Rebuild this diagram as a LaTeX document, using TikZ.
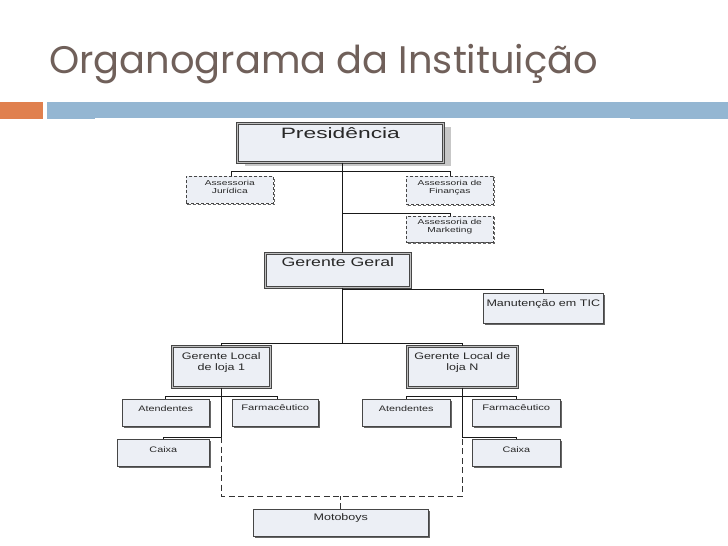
\documentclass[tikz,border=0pt]{standalone}
\usepackage{fontspec}
\setmainfont{Liberation Sans}
\newfontfamily\titlefont{Poppins}
\usetikzlibrary{calc}
\definecolor{boxfill}{RGB}{236,239,245}
\definecolor{boxline}{RGB}{70,70,70}
\definecolor{titlecol}{RGB}{112,96,90}
\definecolor{barorange}{RGB}{224,128,78}
\definecolor{barblue}{RGB}{148,182,210}
\definecolor{txtcol}{RGB}{40,40,40}
\newcommand{\sx}[2][1.35]{\scalebox{#1}[1]{#2}}
\begin{document}
\begin{tikzpicture}[x=1pt,y=-1pt,
  box/.style={draw=boxline, fill=boxfill, line width=0.6pt, rectangle, inner sep=0pt, anchor=north west,
    preaction={fill=black!60, transform canvas={shift={(1.5pt,-1.5pt)}}}},
  dbox/.style={draw=boxline, fill=boxfill, line width=0.6pt, dashed, dash pattern=on 3pt off 2pt,
    rectangle, inner sep=0pt, anchor=north west,
    preaction={draw=black!60, line width=1.2pt, dash pattern=on 3pt off 2pt, transform canvas={shift={(1.2pt,-1.2pt)}}}},
  mainbox/.style={draw=boxline, fill=boxfill, line width=0.7pt, double=black!25, double distance=1.2pt,
    rectangle, inner sep=0pt, anchor=north west},
  presbox/.style={mainbox, preaction={fill=black!22, transform canvas={shift={(8pt,-4pt)}}}},
  glbox/.style={mainbox, preaction={fill=black!60, transform canvas={shift={(1.5pt,-1.5pt)}}}},
  lbl/.style={anchor=north, inner sep=0pt, text=txtcol, align=center},
  conn/.style={draw=black!90, line width=1pt},
  dconn/.style={draw=black!80, line width=1pt, dash pattern=on 6pt off 3.5pt}
]
\useasboundingbox (0,0) rectangle (728,546);
\fill[white] (0,0) rectangle (728,546);

% title and bars
\node[anchor=base west, inner sep=0pt, text=titlecol, font=\titlefont\fontsize{38.4}{44}\selectfont] (title) at (49,73) {Organograma da Instituição};
\fill[barorange] (0,101.5) rectangle (42.5,119);
\fill[barblue] (46.5,101.5) rectangle (728,119);
\fill[white] (95,117.5) rectangle (630,119.5);

% boxes
\node[presbox, minimum width=206, minimum height=39] (pres) at (237,123) {};
\node[dbox, minimum width=87, minimum height=27] (jur) at (186,176) {};
\node[dbox, minimum width=87, minimum height=28] (fin) at (406,176) {};
\node[dbox, minimum width=87, minimum height=26] (mkt) at (406,215.5) {};
\node[mainbox, minimum width=145, minimum height=34] (gg) at (265,253) {};
\node[box, minimum width=120, minimum height=30] (man) at (483,293) {};
\node[glbox, minimum width=98, minimum height=41] (gl1) at (172,346) {};
\node[glbox, minimum width=110, minimum height=41] (glN) at (407,346) {};
\node[box, minimum width=87, minimum height=27] (at1) at (122,399) {};
\node[box, minimum width=86, minimum height=27] (fa1) at (232,399) {};
\node[box, minimum width=92, minimum height=27] (cx1) at (117,439) {};
\node[box, minimum width=88, minimum height=27] (atN) at (362,399) {};
\node[box, minimum width=88, minimum height=27] (faN) at (472,399) {};
\node[box, minimum width=88, minimum height=27] (cxN) at (472,439) {};
\node[box, minimum width=175, minimum height=27] (mb) at (253,509) {};

% labels
\node[lbl, font=\fontsize{15}{17}\selectfont] (tpres) at ($(pres.north)+(0,4.5)$) {\sx[1.52]{Presidência}};
\node[lbl, font=\fontsize{7.2}{7.6}\selectfont] (tjur) at ($(jur.north)+(0,4.5)$) {\sx[1.42]{Assessoria}\\\sx[1.42]{Jurídica}};
\node[lbl, font=\fontsize{7.2}{7.6}\selectfont] (tfin) at ($(fin.north)+(0,4.5)$) {\sx[1.42]{Assessoria de}\\\sx[1.42]{Finanças}};
\node[lbl, font=\fontsize{7.2}{7.6}\selectfont] (tmkt) at ($(mkt.north)+(0,4)$) {\sx[1.42]{Assessoria de}\\\sx[1.42]{Marketing}};
\node[lbl, font=\fontsize{12.5}{14}\selectfont] (tgg) at ($(gg.north)+(0,4.5)$) {\sx[1.42]{Gerente Geral}};
\node[lbl, font=\fontsize{9.5}{11}\selectfont] (tman) at ($(man.north)+(0,6.5)$) {\sx[1.32]{Manutenção em TIC}};
\node[lbl, font=\fontsize{9.5}{10.5}\selectfont] (tgl1) at ($(gl1.north)+(0,6.5)$) {\sx[1.32]{Gerente Local}\\\sx[1.32]{de loja 1}};
\node[lbl, font=\fontsize{9.5}{10.5}\selectfont] (tglN) at ($(glN.north)+(0,6.5)$) {\sx[1.32]{Gerente Local de}\\\sx[1.32]{loja N}};
\node[lbl, font=\fontsize{8}{9}\selectfont] (tat1) at ($(at1.north)+(0,6)$) {\sx{Atendentes}};
\node[lbl, font=\fontsize{8}{9}\selectfont] (tfa1) at ($(fa1.north)+(0,5.5)$) {\sx[1.4]{Farmacêutico}};
\node[lbl, font=\fontsize{8}{9}\selectfont] (tcx1) at ($(cx1.north)+(0,7)$) {\sx{Caixa}};
\node[lbl, font=\fontsize{8}{9}\selectfont] (tatN) at ($(atN.north)+(0,6)$) {\sx{Atendentes}};
\node[lbl, font=\fontsize{8}{9}\selectfont] (tfaN) at ($(faN.north)+(0,5.5)$) {\sx[1.4]{Farmacêutico}};
\node[lbl, font=\fontsize{8}{9}\selectfont] (tcxN) at ($(cxN.north)+(0,7)$) {\sx{Caixa}};
\node[lbl, font=\fontsize{9.5}{11}\selectfont] (tmb) at ($(mb.north)+(0,4)$) {\sx[1.32]{Motoboys}};

% connectors
\coordinate (t) at (342,0);
\draw[conn] (pres.south -| t) -- (gg.north -| t);
\draw[conn] (jur.north) ++(2,0) -- ++(0,-5) -| ($(fin.north)+(1,0)$);
\draw[conn] (mkt.north) ++(1,0) -- ++(0,-2.5) coordinate (m) -- (m -| t);
\draw[conn] (gg.south -| t) -- ($(gl1.north -| t)+(0,-3)$);
\draw[conn] (man.north) -- ++(0,-4) coordinate (mm) -- (mm -| t);
\draw[conn] (gl1.north) -- ++(0,-3) -| (glN.north);
% left store
\draw[conn] (at1.north) -- ++(0,-3) -| ($(fa1.north)+(2,0)$);
\draw[conn] (cx1.north) -- ++(0,-2) coordinate (c1) -- (c1 -| gl1.south);
\draw[conn] (gl1.south) -- (c1 -| gl1.south) coordinate (d1);
% right store
\draw[conn] (atN.north) -- ++(0,-3) -| (faN.north);
\draw[conn] (cxN.north) -- ++(0,-2) coordinate (c2) -- (c2 -| glN.south);
\draw[conn] (glN.south) -- (c2 -| glN.south) coordinate (d2);
% motoboys
\draw[dconn] (d1) -- ++(0,59) coordinate (e1) -- (e1 -| d2) -- (d2);
\draw[dconn] (mb.north) -- (mb.north |- e1);
\end{tikzpicture}
\end{document}
